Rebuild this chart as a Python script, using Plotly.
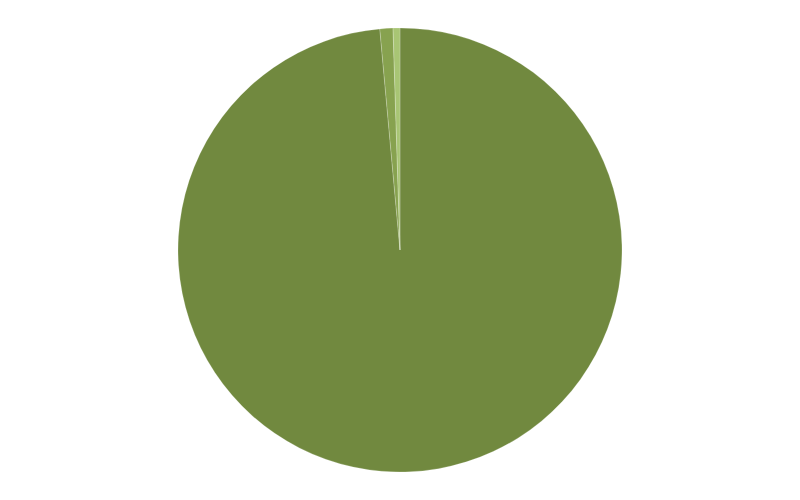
import plotly.graph_objects as go

labels = ["A", "B", "C"]
values = [98.55, 0.95, 0.5]
colors = ["#71893F", "#87A24F", "#A8C574"]

fig = go.Figure(go.Pie(
    labels=labels,
    values=values,
    sort=False,
    direction="clockwise",
    rotation=0,
    marker=dict(colors=colors, line=dict(color="rgba(255,255,255,0.4)", width=0.5)),
    textinfo="none",
    hoverinfo="label+percent",
))
fig.update_layout(
    width=800, height=500,
    margin=dict(l=0, r=16, t=20, b=36),
    showlegend=False,
    paper_bgcolor="white",
)
fig.write_html("out.html")
